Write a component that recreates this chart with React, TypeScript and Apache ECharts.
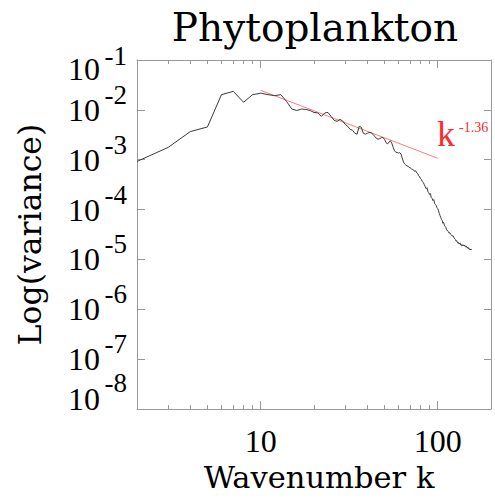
import React, { useEffect, useRef } from 'react';
import * as echarts from 'echarts';

const wavenumbers = [
  2, 3, 4, 5, 6, 7, 8, 9, 10, 11, 12, 13, 14, 15, 16, 17, 18, 19, 20,
  21, 22, 23, 24, 25, 26, 27, 28, 29, 30, 31, 32, 33, 34, 35, 36, 37, 38, 39, 40,
  41, 42, 43, 44, 45, 46, 47, 48, 49, 50, 51, 52, 53, 54, 55, 56, 57, 58, 59, 60,
  61, 62, 63, 64, 65, 66, 67, 68, 69, 70, 71, 72, 73, 74, 75, 76, 77, 78, 79, 80,
  81, 82, 83, 84, 85, 86, 87, 88, 89, 90, 91, 92, 93, 94, 95, 96, 97, 98, 99, 100,
  101, 102, 103, 104, 105, 106, 107, 108, 109, 110, 111, 112, 113, 114, 115, 116, 117, 118, 119, 120,
  121, 122, 123, 124, 125, 126, 127, 128, 129, 130, 131, 132, 133, 134, 135, 136, 137, 138, 139, 140,
  141, 142, 143, 144, 145, 146, 147, 148, 149, 150, 151, 152, 153, 154, 155, 156,
];

const variance = [
  9.25e-4, 1.77e-3, 3.67e-3, 4.54e-3, 2.02e-2, 2.35e-2, 1.42e-2, 2.02e-2, 2.16e-2, 2.02e-2,
  1.93e-2, 2.02e-2, 1.47e-2, 1.04e-2, 9.73e-3, 1.04e-2, 1.02e-2, 9.73e-3, 8.88e-3,
  8.68e-3, 7.39e-3, 8.68e-3, 8.88e-3, 7.39e-3, 6.16e-3, 5.88e-3, 6.45e-3, 6.02e-3, 5.13e-3,
  4.68e-3, 4.08e-3, 3.9e-3, 3.4e-3, 3.25e-3, 4.68e-3, 4.47e-3, 3.4e-3, 3.25e-3, 3.4e-3,
  3.51e-3, 3.48e-3, 3.25e-3, 2.96e-3, 2.71e-3, 2.58e-3, 2.64e-3, 2.77e-3, 2.79e-3, 2.58e-3,
  2.25e-3, 2.06e-3, 2.25e-3, 2.39e-3, 2.15e-3, 1.79e-3, 1.51e-3, 1.41e-3, 1.4e-3, 1.36e-3,
  1.39e-3, 1.3e-3, 1.09e-3, 9.04e-4, 8.25e-4, 7.88e-4, 7.53e-4, 7.36e-4, 7.03e-4, 6.87e-4,
  6.56e-4, 6.41e-4, 6.27e-4, 5.85e-4, 5.99e-4, 5.47e-4, 5.34e-4, 4.77e-4, 4.55e-4, 4.16e-4,
  3.97e-4, 3.62e-4, 3.46e-4, 3.16e-4, 2.88e-4, 2.63e-4, 2.75e-4, 2.29e-4, 2.19e-4, 2.0e-4,
  2.09e-4, 1.74e-4, 1.67e-4, 1.52e-4, 1.59e-4, 1.33e-4, 1.27e-4, 1.21e-4, 1.1e-4, 1.05e-4,
  9.63e-5, 8.4e-5, 7.66e-5, 6.99e-5, 6.38e-5, 6.1e-5, 5.32e-5, 5.56e-5, 4.85e-5, 4.63e-5,
  4.43e-5, 4.04e-5, 4.04e-5, 3.69e-5, 3.6e-5, 3.37e-5, 3.45e-5, 3.22e-5, 3.14e-5, 3.07e-5,
  2.94e-5, 3.01e-5, 2.8e-5, 2.68e-5, 2.56e-5, 2.5e-5, 2.34e-5, 2.39e-5, 2.23e-5, 2.13e-5,
  2.18e-5, 2.04e-5, 2.04e-5, 2.13e-5, 1.95e-5, 1.99e-5, 1.86e-5, 1.9e-5, 1.99e-5, 1.9e-5,
  1.86e-5, 1.95e-5, 1.82e-5, 1.78e-5, 1.86e-5, 1.74e-5, 1.7e-5, 1.78e-5, 1.66e-5, 1.7e-5,
  1.58e-5, 1.62e-5, 1.55e-5, 1.62e-5, 1.55e-5, 1.58e-5,
];

const fitK = [10, 100];
const fitVariance = [0.0246, 0.00107];
const fitLabel = 'k';
const fitExponent = '-1.36';

const xMajorTicks = [10, 100];
const xMinorTicks = [3, 4, 5, 6, 7, 8, 9, 20, 30, 40, 50, 60, 70, 80, 90];
const yTicks = [1e-8, 1e-7, 1e-6, 1e-5, 1e-4, 1e-3, 1e-2, 1e-1];
const yMin = 0.9999e-8;
const yMax = 1e-1;

const titleText = 'Phytoplankton';
const xName = 'Wavenumber k';
const yName = 'Log(variance)';

const NUM_FONT = '"Liberation Serif", "Times New Roman", serif';
const TXT_FONT = '"DejaVu Serif", serif';
const AXIS_GRAY = '#999999';

const decadeExponent = (v: number) => Math.round(Math.log10(v));
const labelKey = (e: number) => (e === -1 ? 'top' : e === -8 ? 'bot' : 'mid');

export default function App() {
  const ref = useRef<HTMLDivElement>(null);

  useEffect(() => {
    if (!ref.current) return;
    const chart = echarts.init(ref.current, null, { renderer: 'svg' });

    const axisLine = { show: true, onZero: false, lineStyle: { color: AXIS_GRAY, width: 1 } };
    const tickStyle = { color: AXIS_GRAY, width: 1 };

    const xBase = {
      type: 'log' as const,
      logBase: 10,
      min: 2,
      max: 200,
      gridIndex: 0,
      splitLine: { show: false },
      minorTick: { show: false },
      minorSplitLine: { show: false },
    };
    const yBase = {
      type: 'log' as const,
      logBase: 10,
      min: yMin,
      max: yMax,
      gridIndex: 0,
      splitLine: { show: false },
      minorTick: { show: false },
      minorSplitLine: { show: false },
    };

    // single token, tiny box; vertical text offset = (padTop - padBottom) / 2
    const B = { fontFamily: NUM_FONT, fontSize: 32, color: '#000', height: 2 };
    const S = { fontFamily: NUM_FONT, fontSize: 27, color: '#000', height: 2 };

    const option: any = {
      animation: false,
      backgroundColor: '#fff',
      grid: { left: 137, top: 60, width: 354, height: 353, containLabel: false },
      xAxis: [
        {
          ...xBase,
          position: 'bottom',
          axisLine,
          axisTick: { show: true, inside: true, length: 8, customValues: xMajorTicks, lineStyle: tickStyle },
          axisLabel: {
            show: true,
            customValues: xMajorTicks,
            formatter: (v: number) => String(Math.round(v)),
            margin: 16,
            fontFamily: NUM_FONT,
            fontSize: 32,
            color: '#000',
          },
          name: xName,
          nameLocation: 'middle',
          nameGap: 50,
          nameTextStyle: { fontFamily: TXT_FONT, fontSize: 30.5, color: '#000', padding: [0, 0, 0, 10] },
        },
        {
          ...xBase,
          position: 'bottom',
          axisLine: { show: false },
          axisTick: { show: true, inside: true, length: 4, customValues: xMinorTicks, lineStyle: tickStyle },
          axisLabel: { show: false },
        },
        {
          ...xBase,
          position: 'top',
          axisLine,
          axisTick: { show: true, inside: true, length: 8, customValues: xMajorTicks, lineStyle: tickStyle },
          axisLabel: { show: false },
        },
        {
          ...xBase,
          position: 'top',
          axisLine: { show: false },
          axisTick: { show: true, inside: true, length: 4, customValues: xMinorTicks, lineStyle: tickStyle },
          axisLabel: { show: false },
        },
      ],
      yAxis: [
        {
          // base "10" of each decade label
          ...yBase,
          position: 'left',
          axisLine,
          axisTick: { show: true, inside: true, length: 8, customValues: yTicks, lineStyle: tickStyle },
          axisLabel: {
            show: true,
            customValues: yTicks,
            showMinLabel: true,
            showMaxLabel: true,
            margin: 37,
            formatter: (v: number) => `{${labelKey(decadeExponent(v))}|10}`,
            rich: {
              mid: { ...B },
              top: { ...B, padding: [18, 0, 0, 0] },
              bot: { ...B, padding: [0, 0, 20, 0] },
            },
          },
          name: yName,
          nameLocation: 'middle',
          nameGap: 91,
          nameRotate: 90,
          nameTextStyle: { fontFamily: TXT_FONT, fontSize: 31.5, color: '#000' },
        },
        {
          ...yBase,
          position: 'right',
          axisLine,
          axisTick: { show: true, inside: true, length: 7, customValues: yTicks, lineStyle: tickStyle },
          axisLabel: { show: false },
        },
        {
          // superscript exponent of each decade label
          ...yBase,
          position: 'left',
          axisLine: { show: false },
          axisTick: { show: false },
          axisLabel: {
            show: true,
            customValues: yTicks,
            showMinLabel: true,
            showMaxLabel: true,
            margin: 10,
            formatter: (v: number) => {
              const e = decadeExponent(v);
              return `{${labelKey(e)}|${e}}`;
            },
            rich: {
              mid: { ...S, padding: [0, 0, 30, 0] },
              top: { ...S, padding: [0, 0, 8, 0] },
              bot: { ...S, padding: [0, 0, 52, 0] },
            },
          },
        },
      ],
      series: [
        {
          type: 'line',
          xAxisIndex: 0,
          yAxisIndex: 0,
          data: wavenumbers.map((k, i) => [k, variance[i]]),
          showSymbol: false,
          symbol: 'none',
          lineStyle: { color: '#3a3a3a', width: 1 },
          silent: true,
          z: 3,
        },
        {
          type: 'line',
          xAxisIndex: 0,
          yAxisIndex: 0,
          data: fitK.map((k, i) => [k, fitVariance[i]]),
          showSymbol: false,
          symbol: 'none',
          lineStyle: { color: '#ff7b7b', width: 1 },
          silent: true,
          z: 2,
        },
      ],
      graphic: [
        {
          type: 'text',
          style: {
            text: titleText,
            x: 315,
            y: 8,
            align: 'center',
            verticalAlign: 'top',
            fontFamily: TXT_FONT,
            fontSize: 39,
            fill: '#000',
          },
        },
        {
          type: 'text',
          style: {
            text: fitLabel,
            x: 437,
            y: 116,
            align: 'left',
            verticalAlign: 'top',
            fontFamily: NUM_FONT,
            fontSize: 36,
            fill: '#ff2a2a',
          },
        },
        {
          type: 'text',
          style: {
            text: fitExponent,
            x: 459,
            y: 120,
            align: 'left',
            verticalAlign: 'top',
            fontFamily: NUM_FONT,
            fontSize: 14,
            fill: '#ff2a2a',
          },
        },
      ],
    };

    chart.setOption(option);
    return () => chart.dispose();
  }, []);

  return (
    <div
      ref={ref}
      style={{ position: 'fixed', left: 0, top: 0, width: 495, height: 498, background: '#fff' }}
    />
  );
}
